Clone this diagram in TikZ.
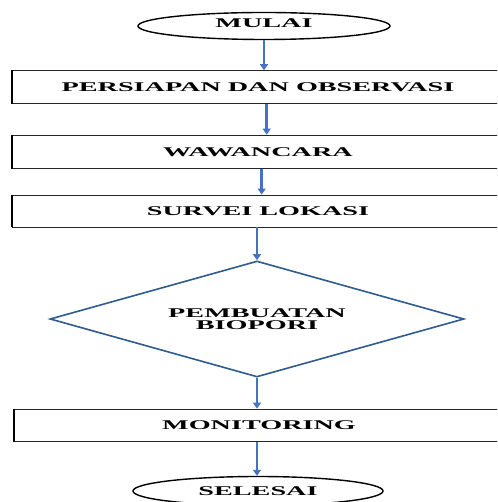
\documentclass[tikz,border=0pt]{standalone}
\usepackage{fontspec}
\setmainfont{Liberation Serif}
\usetikzlibrary{shapes.geometric,arrows.meta}
\definecolor{arrblue}{HTML}{4472C4}
\definecolor{diablue}{HTML}{2F5B8E}
\newcommand{\wtxt}[1]{\scalebox{2.12}[1]{\bfseries #1}}
\begin{document}
\begin{tikzpicture}[x=1pt,y=-1pt,
  every node/.style={font=\fontsize{13.3}{14}\selectfont, inner sep=0pt},
  termbox/.style={ellipse, draw=black, line width=1.4pt, fill=white},
  procbox/.style={rectangle, draw=black!85, line width=0.9pt, minimum height=33pt},
  decbox/.style={diamond, draw=diablue, line width=1.6pt, minimum width=414pt, minimum height=116pt, aspect=3.57},
  arr/.style={draw=arrblue, line width=2.8pt, -{Triangle[width=8pt,length=6pt]}},
  thickleft/.style={line width=2pt, draw=black}
]
\clip (0,0) rectangle (497,502);
\fill[white] (0,0) rectangle (497,502);

\node[termbox, minimum width=252pt, minimum height=27pt] (mulai) at (264,26) {};
\node at (264,23.5) (tmulai) {\wtxt{MULAI}};

\node[procbox, minimum width=492pt, minimum height=33.3pt] (b1) at (258,87.3) {\wtxt{PERSIAPAN DAN OBSERVASI}};
\node[procbox, minimum width=492pt, minimum height=33.3pt] (b2) at (258,151.7) {\wtxt{WAWANCARA}};
\node[procbox, minimum width=492pt, minimum height=32pt] (b3) at (258,211) {\wtxt{SURVEI LOKASI}};
\node[decbox] (dia) at (257,319) {};
\node at (257,319.5) (tdia) {\scalebox{2.12}[1]{\bfseries\shortstack{PEMBUATAN\\BIOPORI}}};
\node[procbox, minimum width=490pt, minimum height=32.7pt] (b4) at (259,425.4) {\wtxt{MONITORING}};
\node[termbox, minimum width=250pt, minimum height=29pt] (sel) at (258,491) {\wtxt{SELESAI}};

\draw[thickleft] (b1.north west) -- (b1.south west);
\draw[thickleft] (b2.north west) -- (b2.south west);
\draw[thickleft] (b3.north west) -- (b3.south west);
\draw[thickleft] (b4.north west) -- (b4.south west);

\draw[arr] (mulai.south) -- (mulai.south |- b1.north);
\draw[arr] ([xshift=8.7pt]b1.south) -- ([xshift=8.7pt]b1.south |- b2.north);
\draw[arr] ([xshift=3.7pt]b2.south) -- ([xshift=3.7pt]b2.south |- b3.north);
\draw[arr] ([xshift=-1pt]b3.south) -- (dia.north);
\draw[arr] (dia.south) -- (dia.south |- b4.north);
\draw[arr] ([xshift=-2pt]b4.south) -- ([xshift=-2pt]b4.south |- sel.north);
\end{tikzpicture}
\end{document}
